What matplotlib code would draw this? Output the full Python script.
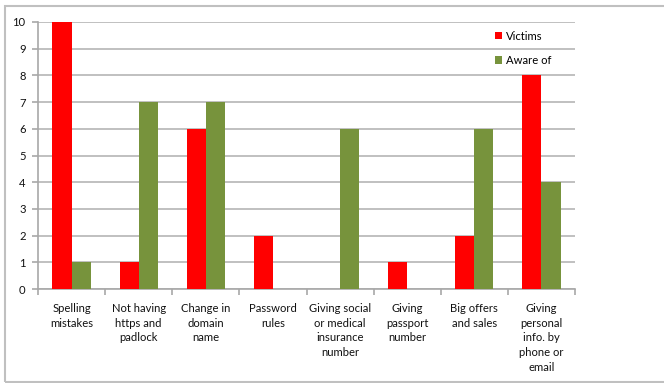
import matplotlib.pyplot as plt
from matplotlib.patches import Rectangle
import numpy as np

categories = [
    "Spelling\nmistakes",
    "Not having\nhttps and\npadlock",
    "Change in\ndomain\nname",
    "Password\nrules",
    "Giving social\nor medical\ninsurance\nnumber",
    "Giving\npassport\nnumber",
    "Big offers\nand sales",
    "Giving\npersonal\ninfo. by\nphone or\nemail",
]
victims = [10, 1, 6, 2, 0, 1, 2, 8]
aware_of = [1, 7, 7, 0, 6, 0, 6, 4]
y_ticks = list(range(0, 11))

plt.rcParams['font.family'] = ['Lato', 'DejaVu Sans']

fig = plt.figure(figsize=(6.64, 3.83), dpi=100)
ax = fig.add_axes([38 / 664, 94 / 383, 537 / 664, 267 / 383])

# thin grey frame around the whole chart
fig.patches.append(Rectangle((5 / 664, 1.5 / 383), 1.0, 376 / 383,
                             transform=fig.transFigure, fill=False,
                             edgecolor='#c0c0c0', linewidth=1.5))

x = np.arange(len(categories))
w = 0.284
ax.bar(x - w / 2, victims, w, color='#ff0000', label='Victims', zorder=3)
ax.bar(x + w / 2, aware_of, w, color='#77933c', label='Aware of', zorder=3)

ax.set_xlim(-0.5, len(categories) - 0.5)
ax.set_ylim(0, 10)
ax.set_yticks(y_ticks)
ax.yaxis.grid(True, color='#b5b5b5', linewidth=1.2, zorder=0)

for s in ['top', 'right']:
    ax.spines[s].set_visible(False)
for s in ['left', 'bottom']:
    ax.spines[s].set_color('#a8a8a8')
    ax.spines[s].set_linewidth(1.2)

# category boundary ticks below the axis, labels centred between them
ax.set_xticks(np.arange(-0.5, len(categories), 1.0))
ax.set_xticklabels([])
ax.set_xticks(x, minor=True)
ax.set_xticklabels(categories, minor=True, fontsize=8.1, linespacing=1.42,
                   va='top', color='#111111')
ax.tick_params(axis='x', which='major', length=4, color='#a8a8a8', width=1.2)
ax.tick_params(axis='x', which='minor', length=0, pad=10)
ax.tick_params(axis='y', length=4, color='#a8a8a8', width=1.2,
               labelsize=8.1, labelcolor='#111111', pad=5)

ax.legend(loc='upper left', bbox_to_anchor=(0.843, 0.985), frameon=False,
          handlelength=0.6, handleheight=0.6, handletextpad=0.35,
          labelspacing=1.2, fontsize=8.1, borderaxespad=0)

fig.savefig('out.png', dpi=100)
